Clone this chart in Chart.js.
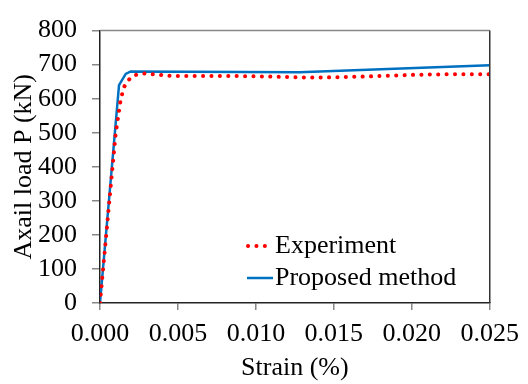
<!DOCTYPE html>
<html><head><meta charset="utf-8">
<script src="https://cdn.jsdelivr.net/npm/chart.js@4/dist/chart.umd.min.js"></script>
<style>html,body{margin:0;padding:0;background:#fff}#wrap{width:528px;height:384px}</style>
</head><body><div id="wrap"><canvas id="c" width="528" height="384"></canvas></div>
<script>
const strainExp = [0, 0.0005, 0.001, 0.0013, 0.0015, 0.0017, 0.0019, 0.0022, 0.0028, 0.0035, 0.0045, 0.007, 0.010, 0.0125, 0.014, 0.017, 0.020, 0.0225, 0.025];
const loadExp   = [0, 250, 495, 590, 630, 648, 658, 669, 674, 671, 667, 667, 666, 663, 662, 665, 670, 672, 672];
const strainProp = [0, 0.00122, 0.00165, 0.00197, 0.0128, 0.025];
const loadProp   = [0, 640, 673, 680, 678, 698];
const xTicks = [0, 0.005, 0.010, 0.015, 0.020, 0.025];
const yTicks = [0, 100, 200, 300, 400, 500, 600, 700, 800];
const seriesNames = ["Experiment", "Proposed method"];

const FONT = "'Liberation Serif','Times New Roman',serif";
const FS = 26;
const toPts = (xs, ys) => xs.map((x, i) => ({x: x, y: ys[i]}));

const frame = {
  id: 'frame',
  afterDraw(chart) {
    const {ctx, chartArea: a} = chart;
    ctx.save();
    ctx.strokeStyle = '#888';
    ctx.lineWidth = 1.5;
    ctx.beginPath(); ctx.moveTo(a.left, a.top); ctx.lineTo(a.right, a.top); ctx.stroke();
    ctx.strokeStyle = '#333';
    ctx.beginPath(); ctx.moveTo(a.right, a.top); ctx.lineTo(a.right, a.bottom); ctx.stroke();
    // legend
    const ds = chart.data.datasets;
    const ys = [246, 278];
    const ends = [268, 273];
    ds.forEach((d, i) => {
      ctx.save();
      ctx.strokeStyle = d.borderColor;
      ctx.lineWidth = d.borderWidth;
      ctx.lineCap = d.borderCapStyle || 'butt';
      ctx.setLineDash(d.borderDash || []);
      ctx.beginPath(); ctx.moveTo(i === 0 ? 248 : 247, ys[i]); ctx.lineTo(ends[i], ys[i]); ctx.stroke();
      ctx.restore();
      ctx.fillStyle = '#000';
      ctx.font = FS + 'px ' + FONT;
      ctx.textBaseline = 'middle';
      ctx.textAlign = 'left';
      ctx.fillText(d.label, 275, ys[i]);
    });
    ctx.restore();
  }
};

new Chart(document.getElementById('c'), {
  type: 'line',
  data: {
    datasets: [
      {label: seriesNames[0], data: toPts(strainExp, loadExp), borderColor: '#FF0000', borderWidth: 4,
       borderDash: [0.1, 8.3], borderCapStyle: 'round', pointRadius: 0, tension: 0, fill: false},
      {label: seriesNames[1], data: toPts(strainProp, loadProp), borderColor: '#0070C0', borderWidth: 2.5,
       pointRadius: 0, tension: 0, fill: false}
    ]
  },
  options: {
    animation: false, responsive: false, devicePixelRatio: 1,
    layout: {padding: {top: 20, right: 38, left: 0, bottom: 0}},
    plugins: {legend: {display: false}, tooltip: {enabled: false}},
    scales: {
      x: {
        type: 'linear', min: 0, max: 0.025,
        afterBuildTicks: s => { s.ticks = xTicks.map(v => ({value: v})); },
        afterFit: s => { s.height = 81; },
        ticks: {font: {family: FONT, size: FS}, color: '#000', padding: 9, maxRotation: 0, autoSkip: false,
                callback: v => v.toFixed(3)},
        grid: {drawOnChartArea: false, drawTicks: true, tickLength: 7, color: '#888', lineWidth: 1.5},
        border: {display: true, color: '#222', width: 1.5},
        title: {display: true, text: 'Strain (%)', font: {family: FONT, size: FS}, color: '#000', padding: {top: 0, bottom: 0}}
      },
      y: {
        min: 0, max: 800,
        afterBuildTicks: s => { s.ticks = yTicks.map(v => ({value: v})); },
        afterFit: s => { s.width = 100; },
        ticks: {font: {family: FONT, size: FS}, color: '#000', padding: 15, autoSkip: false},
        grid: {drawOnChartArea: false, drawTicks: true, tickLength: 8, color: '#888', lineWidth: 1.5},
        border: {display: true, color: '#222', width: 1.5},
        title: {display: true, text: 'Axail load P (kN)', font: {family: FONT, size: FS}, color: '#000', padding: {top: 9, bottom: 0}}
      }
    }
  },
  plugins: [frame]
});
</script></body></html>
